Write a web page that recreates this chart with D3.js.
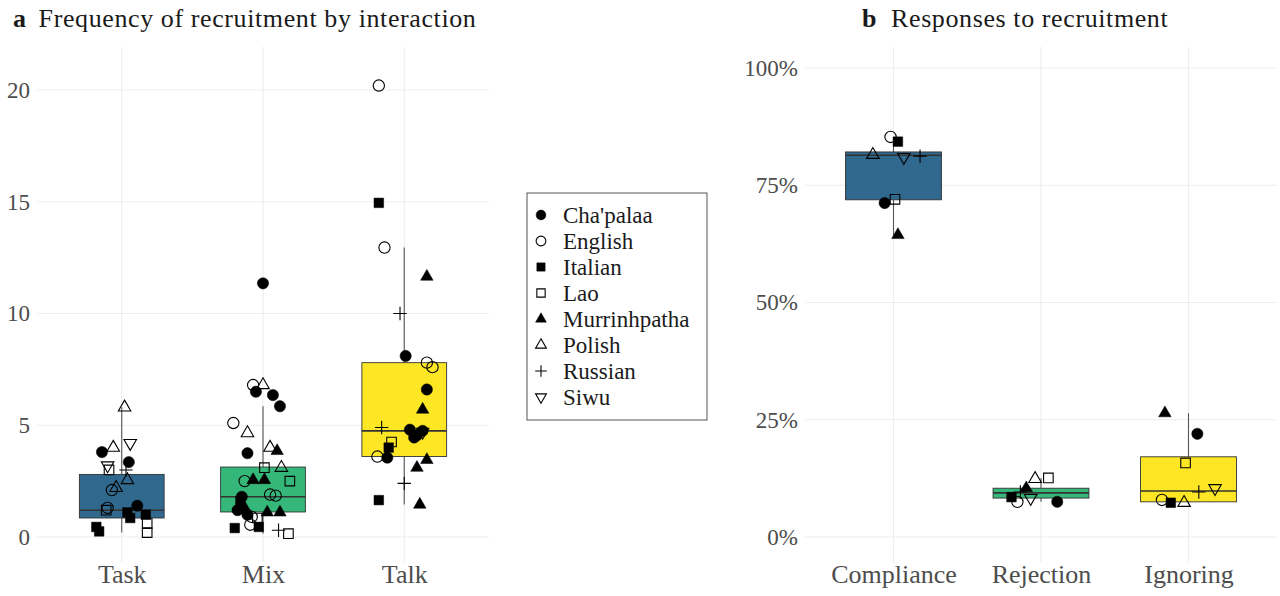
<!DOCTYPE html>
<html><head><meta charset="utf-8">
<script src="https://cdn.jsdelivr.net/npm/d3@7"></script>
<style>body{margin:0;background:#fff} svg{display:block} text{font-family:"Liberation Serif","Times New Roman",serif}</style>
</head><body><svg id="c" width="1280" height="596"></svg>
<script>
const languages = ["Cha'palaa","English","Italian","Lao","Murrinhpatha","Polish","Russian","Siwu"];
const interactions = ["Task","Mix","Talk"];
const responses = ["Compliance","Rejection","Ignoring"];
const ticksA = [0,5,10,15,20];
const ticksB = [0,0.25,0.5,0.75,1];
const boxFills = ["#31688E","#35B779","#FDE725"];

// Panel a box statistics (per interaction)
const boxLowA  = [0.2, 0.15, 1.45];
const boxQ1A   = [0.85, 1.12, 3.6];
const boxMedA  = [1.2, 1.8, 4.75];
const boxQ3A   = [2.8, 3.13, 7.8];
const boxHighA = [5.8, 5.85, 12.95];

// Panel b box statistics (per response)
const boxLowB  = [0.644, 0.075, 0.073];
const boxQ1B   = [0.719, 0.083, 0.075];
const boxMedB  = [0.814, 0.094, 0.098];
const boxQ3B   = [0.821, 0.104, 0.171];
const boxHighB = [0.853, 0.126, 0.264];

// points: [language, value, horizontal jitter (fraction of category step)]
const taskPoints = [
  ["Polish",5.8,0.02],["Siwu",4.2,0.06],["Polish",4.0,-0.06],["Cha'palaa",3.8,-0.14],
  ["Cha'palaa",3.35,0.05],["Siwu",3.2,-0.10],["Lao",3.0,-0.09],["Russian",3.0,0.03],
  ["Polish",2.55,0.04],["Polish",2.2,-0.04],["English",2.1,-0.07],["English",1.3,-0.10],
  ["Lao",1.2,-0.11],["Cha'palaa",1.4,0.11],["Italian",1.1,0.04],["Italian",0.85,0.06],
  ["Italian",1.0,0.17],["Italian",0.45,-0.18],["Italian",0.25,-0.16],["Lao",0.6,0.18],["Lao",0.2,0.18]
];
const mixPoints = [
  ["Cha'palaa",11.35,0.0],["Polish",6.8,0.0],["English",6.8,-0.07],["Cha'palaa",6.5,-0.05],
  ["Cha'palaa",6.35,0.07],["Cha'palaa",5.85,0.12],["English",5.1,-0.21],["Polish",4.65,-0.11],
  ["Polish",4.0,0.05],["Murrinhpatha",3.85,0.10],["Cha'palaa",3.75,-0.11],["Lao",3.1,0.01],
  ["Polish",3.1,0.13],["Lao",2.5,0.19],["English",2.5,-0.13],["Murrinhpatha",2.55,-0.07],
  ["Murrinhpatha",2.55,0.01],["Cha'palaa",1.8,-0.15],["Italian",1.6,-0.16],["English",1.9,0.05],
  ["English",1.85,0.09],["Murrinhpatha",1.3,-0.13],["Cha'palaa",1.2,-0.18],["Cha'palaa",1.0,-0.11],
  ["Murrinhpatha",1.1,0.03],["Murrinhpatha",1.1,0.12],["English",0.9,-0.08],["Lao",0.85,-0.04],
  ["English",0.55,-0.09],["Italian",0.4,-0.20],["Italian",0.45,-0.03],["Russian",0.3,0.11],["Lao",0.15,0.18]
];
const talkPoints = [
  ["English",20.2,-0.18],["Italian",14.95,-0.18],["English",12.95,-0.14],["Murrinhpatha",11.65,0.16],
  ["Russian",10.0,-0.03],["Cha'palaa",8.1,0.01],["English",7.8,0.16],["English",7.6,0.20],
  ["Cha'palaa",6.6,0.16],["Murrinhpatha",5.7,0.13],["Russian",4.9,-0.16],["Cha'palaa",4.8,0.04],
  ["Cha'palaa",4.55,0.09],["Cha'palaa",4.75,0.13],["Cha'palaa",4.45,0.07],["Siwu",4.7,0.13],
  ["Lao",4.25,-0.09],["Italian",4.0,-0.11],["Cha'palaa",3.55,-0.12],["English",3.6,-0.19],
  ["Murrinhpatha",3.45,0.16],["Murrinhpatha",3.1,0.09],["Russian",2.4,0.0],["Italian",1.65,-0.18],
  ["Murrinhpatha",1.45,0.11]
];
const compliancePoints = [
  ["English",0.853,-0.02],["Italian",0.843,0.03],["Polish",0.815,-0.14],["Siwu",0.81,0.07],
  ["Russian",0.812,0.18],["Cha'palaa",0.712,-0.06],["Lao",0.72,0.01],["Murrinhpatha",0.644,0.03]
];
const rejectionPoints = [
  ["Polish",0.124,-0.04],["Lao",0.126,0.05],["Murrinhpatha",0.104,-0.10],["Russian",0.096,-0.14],
  ["Italian",0.085,-0.20],["English",0.075,-0.16],["Siwu",0.083,-0.07],["Cha'palaa",0.075,0.11]
];
const ignoringPoints = [
  ["Murrinhpatha",0.264,-0.16],["Cha'palaa",0.22,0.06],["Lao",0.158,-0.02],["Siwu",0.104,0.18],
  ["Russian",0.096,0.07],["English",0.079,-0.18],["Italian",0.073,-0.12],["Polish",0.073,-0.03]
];

const svg = d3.select("#c");
const gridCol = "#ededed", textCol = "#4d4d4d";

// symbols
const plusType = {draw(ctx, size){ const r = Math.sqrt(size)/2; ctx.moveTo(-r,0); ctx.lineTo(r,0); ctx.moveTo(0,-r); ctx.lineTo(0,r);} };
const shapeSpec = {
  "Cha'palaa":   {type:d3.symbolCircle, size:100, filled:true, rot:0},
  "English":     {type:d3.symbolCircle, size:100, filled:false, rot:0},
  "Italian":     {type:d3.symbolSquare, size:92, filled:true, rot:0},
  "Lao":         {type:d3.symbolSquare, size:92, filled:false, rot:0},
  "Murrinhpatha":{type:d3.symbolTriangle, size:68, filled:true, rot:0},
  "Polish":      {type:d3.symbolTriangle, size:68, filled:false, rot:0},
  "Russian":     {type:plusType, size:180, filled:false, rot:0},
  "Siwu":        {type:d3.symbolTriangle, size:68, filled:false, rot:180}
};
function drawSym(g, lang, x, y, scale){
  const s = shapeSpec[lang];
  g.append("path")
    .attr("d", d3.symbol().type(s.type).size(s.size*(scale||1))())
    .attr("transform", `translate(${x},${y}) rotate(${s.rot})`)
    .attr("fill", s.filled ? "#000" : "none")
    .attr("stroke", "#000")
    .attr("stroke-width", s.filled ? 0.5 : 1.1);
}

function panel(opt){
  const g = svg.append("g");
  const x = d3.scalePoint().domain(opt.cats).range(opt.xr).padding(0.6);
  const y = d3.scaleLinear().domain(opt.ydom).range(opt.yr);
  const step = x.step();
  // grid
  g.selectAll(".hg").data(opt.ticks).join("line")
    .attr("x1", opt.xr[0]).attr("x2", opt.xr[1])
    .attr("y1", d=>y(d)).attr("y2", d=>y(d))
    .attr("stroke", gridCol).attr("stroke-width", 1.1);
  g.selectAll(".vg").data(opt.cats).join("line")
    .attr("x1", d=>x(d)).attr("x2", d=>x(d))
    .attr("y1", opt.top).attr("y2", opt.bottom)
    .attr("stroke", gridCol).attr("stroke-width", 1.1);
  // axes labels
  const ya = d3.axisLeft(y).tickValues(opt.ticks).tickFormat(opt.fmt).tickSize(0).tickPadding(0);
  const yg = g.append("g").attr("transform", `translate(${opt.labelX},0)`).call(ya);
  yg.select(".domain").remove();
  yg.selectAll("text").attr("fill", textCol).style("font-size","23px").style("font-family","Liberation Serif");
  const xa = d3.axisBottom(x).tickSize(0).tickPadding(0);
  const xg = g.append("g").attr("transform", `translate(0,${opt.xLabelY})`).call(xa);
  xg.select(".domain").remove();
  xg.selectAll("text").attr("fill", textCol).attr("dy", 0).style("font-size","26px").style("font-family","Liberation Serif");
  // boxes
  opt.cats.forEach((c,i)=>{
    const cx = x(c), hw = step*opt.bw/2;
    g.append("line").attr("x1",cx).attr("x2",cx).attr("y1",y(opt.high[i])).attr("y2",y(opt.q3[i]))
      .attr("stroke","#555").attr("stroke-width",1.1);
    g.append("line").attr("x1",cx).attr("x2",cx).attr("y1",y(opt.low[i])).attr("y2",y(opt.q1[i]))
      .attr("stroke","#555").attr("stroke-width",1.1);
    g.append("rect").attr("x",cx-hw).attr("width",2*hw)
      .attr("y",y(opt.q3[i])).attr("height",y(opt.q1[i])-y(opt.q3[i]))
      .attr("fill",boxFills[i]).attr("stroke","#333").attr("stroke-width",0.9);
    g.append("line").attr("x1",cx-hw).attr("x2",cx+hw).attr("y1",y(opt.med[i])).attr("y2",y(opt.med[i]))
      .attr("stroke","#333").attr("stroke-width",1.6);
  });
  // points
  opt.points.forEach((pts,i)=>{
    const cx = x(opt.cats[i]);
    pts.forEach(p=> drawSym(g, p[0], cx + p[2]*step, y(p[1])));
  });
  // title
  const t = g.append("text").attr("x", opt.titleX).attr("y", 27).attr("fill","#1a1a1a")
    .style("font-size","26px").style("letter-spacing","0.6px");
  t.append("tspan").attr("font-weight","bold").text(opt.letter);
  t.append("tspan").attr("dx", opt.letterGap).text(opt.title);
}

panel({cats:interactions, xr:[37,489], ydom:[0,20], yr:[537,90], top:47, bottom:562,
  ticks:ticksA, fmt:d3.format("d"), labelX:30, xLabelY:583, bw:0.6,
  low:boxLowA, q1:boxQ1A, med:boxMedA, q3:boxQ3A, high:boxHighA,
  points:[taskPoints, mixPoints, talkPoints],
  titleX:13, letter:"a", letterGap:12, title:"Frequency of recruitment by interaction"});

panel({cats:responses, xr:[805,1277], ydom:[0,1], yr:[537,68], top:47, bottom:562,
  ticks:ticksB, fmt:d3.format(".0%"), labelX:798, xLabelY:583, bw:0.65,
  low:boxLowB, q1:boxQ1B, med:boxMedB, q3:boxQ3B, high:boxHighB,
  points:[compliancePoints, rejectionPoints, ignoringPoints],
  titleX:862, letter:"b", letterGap:14, title:"Responses to recruitment"});

// legend
const lg = svg.append("g");
lg.append("rect").attr("x",527).attr("y",193).attr("width",180).attr("height",227)
  .attr("fill","#fff").attr("stroke","#555").attr("stroke-width",1);
const ly = d3.scalePoint().domain(languages).range([215,397]);
languages.forEach(l=>{
  drawSym(lg, l, 541, ly(l), 0.75);
  lg.append("text").attr("x",563).attr("y",ly(l)+8).attr("fill","#1a1a1a")
    .style("font-size","23px").text(l);
});
</script></body></html>
